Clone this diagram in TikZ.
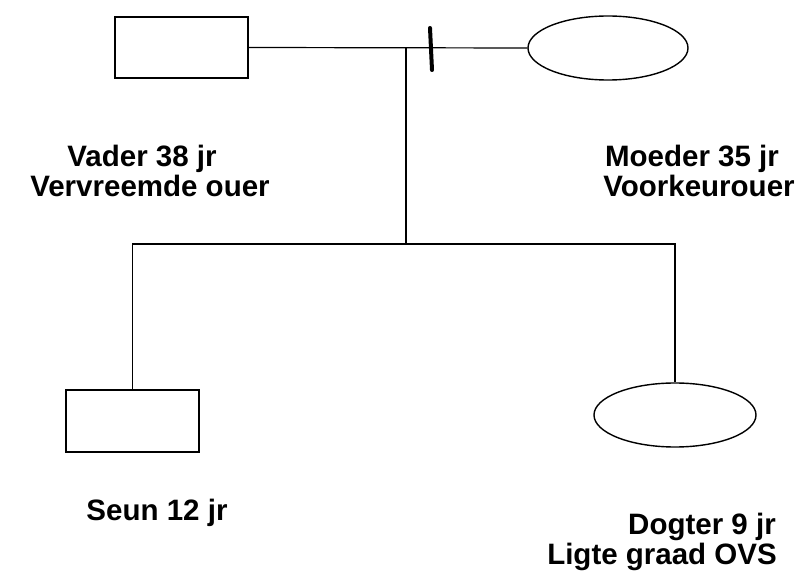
\documentclass[tikz,border=0pt]{standalone}
\usepackage{fontspec}
\setmainfont{Liberation Sans}
\usetikzlibrary{shapes.geometric}
\begin{document}
\begin{tikzpicture}[x=1pt,y=-1pt,
  person/.style={draw,line width=1.4pt,inner sep=0pt},
  male/.style={person,rectangle,minimum width=133pt,minimum height=61pt},
  female/.style={person,ellipse,minimum width=160pt,minimum height=64pt},
  rel/.style={line width=1.2pt},
  lbl/.style={font=\fontsize{29.5}{31}\selectfont\bfseries,anchor=base,inner sep=0pt}]
\useasboundingbox (0,0) rectangle (812,585);
\node[male] (father) at (181.5,47.5) {};
\node[female] (mother) at (608,48) {};
\node[male,minimum height=62pt] (son) at (132.5,421) {};
\node[female,minimum width=162pt] (daughter) at (675,415) {};
\coordinate (J) at (406,48);
\coordinate (Jb) at (406,244);
\coordinate (d1) at (430,28);
\coordinate (d2) at (432,70);
\draw[rel] (father.east) -- (mother.west);
\draw[line width=4pt,line cap=round] (d1) -- (d2);
\draw[rel] (J) -- (Jb);
\draw[rel] (son.north) |- (Jb) -| (daughter.north);
\node[lbl] (t1) at (142,167) {Vader 38 jr};
\node[lbl] (t2) at (150,197) {Vervreemde ouer};
\node[lbl] (t3) at (692,167) {Moeder 35 jr};
\node[lbl] (t4) at (699,197) {Voorkeurouer};
\node[lbl] (t5) at (157,520) {Seun 12 jr};
\node[lbl] (t6) at (702,534) {Dogter 9 jr};
\node[lbl] (t7) at (662,564) {Ligte graad OVS};
\end{tikzpicture}
\end{document}
